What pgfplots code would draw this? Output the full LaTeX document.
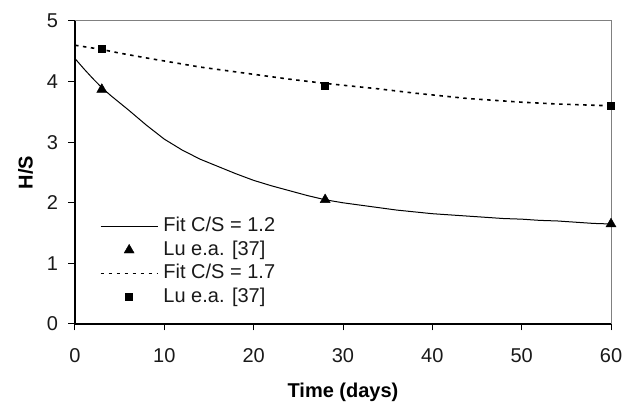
\documentclass[border=0pt]{standalone}
\usepackage{pgfplots}
\pgfplotsset{compat=1.18}
\usepackage{fontspec}
\setmainfont{Liberation Sans}
\begin{document}
\begin{tikzpicture}
\pgfplotsset{
  mylegimg/.style={legend image code/.code={%
    \draw[##1,mark repeat=2,mark phase=2] plot coordinates {(0bp,0bp) (28.5bp,0bp) (57bp,0bp)};}},
}
\begin{axis}[
  scale only axis,
  width=536bp, height=303bp,
  xmin=0, xmax=60, ymin=0, ymax=5,
  xtick={0,10,...,60}, ytick={0,1,...,5},
  axis lines=left,
  axis line style={-, line width=1.4bp, black},
  tick align=outside,
  major tick length=6.5bp,
  tick style={line width=1bp, black},
  /pgf/number format/assume math mode=true,
  tick label style={font=\fontsize{20bp}{24bp}\selectfont, text=black!90},
  xticklabel style={yshift=-15bp},
  yticklabel style={xshift=-7bp},
  xlabel={\textbf{Time (days)}},
  ylabel={\textbf{H/S}},
  label style={font=\fontsize{20bp}{24bp}\selectfont},
  xlabel style={yshift=-13bp},
  ylabel style={yshift=7bp},
  legend style={draw=none, fill=none, at={(rel axis cs:0.046,0.355)}, anchor=north west,
    font=\fontsize{20bp}{24bp}\selectfont, inner sep=0pt, row sep=3.5bp,
    nodes={inner sep=1bp, text height=14bp, text depth=4bp, text=black!90},
    /tikz/every odd column/.append style={column sep=4bp}},
  legend cell align=left,
  clip=false,
]
\draw[gray, line width=1bp] (rel axis cs:0,1) -- (rel axis cs:1,1) -- (rel axis cs:1,0);
\addplot[black, line width=1bp, no marks, mylegimg] coordinates {
(0,4.38) (1,4.21) (2,4.05) (3,3.9) (4,3.77) (5,3.65) (6,3.53) (8,3.28) (10,3.05)
(12,2.87) (14,2.72) (16,2.6) (18,2.48) (20,2.37) (22,2.28) (24,2.2) (26,2.12)
(28,2.05) (30,2.0) (32,1.96) (34,1.92) (36,1.88) (38,1.85) (40,1.82) (42,1.8)
(44,1.78) (46,1.76) (48,1.74) (50,1.73) (52,1.71) (54,1.7) (56,1.68) (58,1.66) (60,1.65)};
\addlegendentry{Fit C/S = 1.2}
\addplot[black, only marks, mark=triangle*, mark size=5.8bp, mylegimg] coordinates {
(3,3.87) (28,2.05) (60,1.65)};
\addlegendentry{Lu e.a. [37]}
\addplot[black, line width=1.6bp, dash pattern=on 3.5bp off 4.5bp, no marks, mylegimg] coordinates {
(0,4.6) (3,4.53) (5,4.47) (8,4.39) (10,4.34) (14,4.24) (18,4.16) (20,4.12) (24,4.04)
(28,3.97) (30,3.94) (34,3.88) (38,3.81) (40,3.78) (44,3.72) (48,3.68) (50,3.66)
(54,3.63) (58,3.61) (60,3.6)};
\addlegendentry{Fit C/S = 1.7}
\addplot[black, only marks, mark=square*, mark size=3.5bp, mylegimg] coordinates {
(3,4.55) (28,3.93) (60,3.6)};
\addlegendentry{Lu e.a. [37]}
\end{axis}
\pgfresetboundingbox
\path (current axis.south west) ++(-75bp,-78bp) coordinate (bbA);
\path (current axis.north east) ++(26bp,21bp) coordinate (bbB);
\path (bbA) rectangle (bbB);
\end{tikzpicture}
\end{document}
